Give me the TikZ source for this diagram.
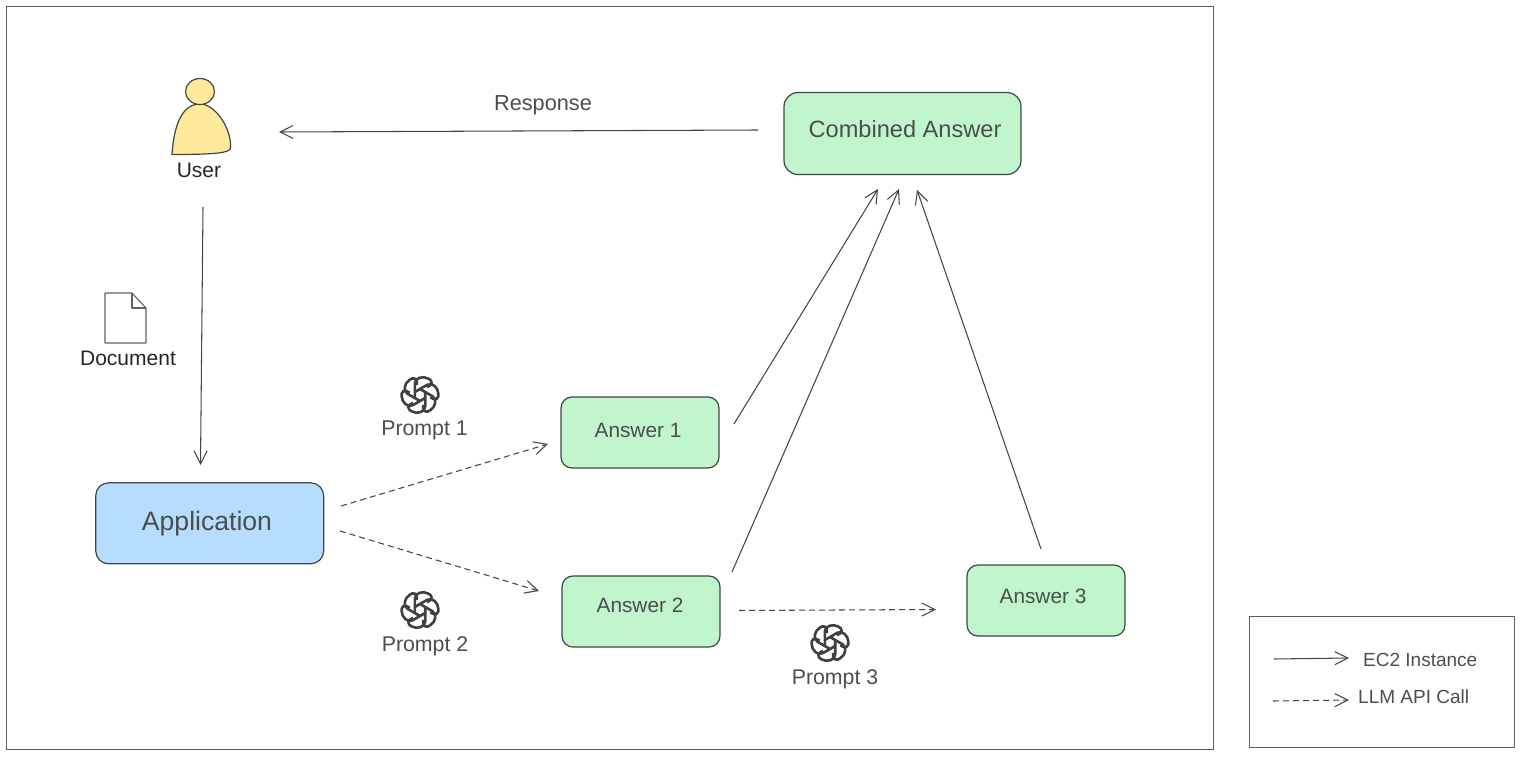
\documentclass[tikz,border=0pt]{standalone}
\usepackage{fontspec}
\setmainfont{Liberation Sans}
\usetikzlibrary{arrows.meta,shapes.geometric}
\definecolor{ink}{HTML}{3F4744}
\definecolor{txt}{HTML}{4A4F4D}
\definecolor{grn}{HTML}{C1F5CB}
\definecolor{blu}{HTML}{B6DCFF}
\definecolor{yel}{HTML}{FFEA9B}
\tikzset{
  x=1pt,y=-1pt,
  frame/.style={draw=ink!85,line width=1pt},
  answer/.style={draw=ink,line width=1.2pt,fill=grn,rounded corners=11pt,minimum width=158pt,minimum height=71pt,inner sep=0pt},
  lbl/.style={text=txt,inner sep=0pt,font=\fontsize{20.8}{24}\selectfont},
  plbl/.style={lbl,font=\fontsize{21.3}{24}\selectfont},
  blk/.style={text=black!85,inner sep=0pt,font=\fontsize{21}{24}\selectfont},
  ec/.style={draw=ink,line width=1.05pt,-{Straight Barb[length=13pt,width=13pt,line width=1.05pt]}},
  llm/.style={ec,dash pattern=on 6pt off 4pt},
  logo/.pic={
    \foreach \a in {0,60,...,300}{
      \draw[rotate=\a,draw=black!75,line width=2.6pt,line join=round,line cap=butt]
        (-5.2,3) -- (-5.2,-11.5) .. controls (-5.2,-17) and (3,-19.5) .. (8,-16.5)
        -- (10.5,-15) .. controls (12.5,-13.5) and (12,-11) .. (10,-9.5) -- (7,-7.8);
    }
  }
}
\begin{document}
\begin{tikzpicture}
\useasboundingbox (0,0) rectangle (1524,759);
\node[frame,minimum width=1207.5pt,minimum height=742.5pt,inner sep=0pt,anchor=north west] (main) at (5.5,6) {};
\node[frame,minimum width=265pt,minimum height=131pt,inner sep=0pt,anchor=north west] (legend) at (1249.2,616.2) {};

% user
\path[draw=ink,fill=yel,line width=1.2pt] (172,154.5) .. controls (174,125) and (182,104) .. (200,104)
  .. controls (216,104) and (232,130) .. (230.5,148) .. controls (230,153) and (215,154.5) .. (172,154.5) -- cycle;
\node[draw=ink,fill=yel,ellipse,line width=1.2pt,minimum width=29pt,minimum height=26pt,inner sep=0pt] (head) at (200,91.5) {};
\node[blk] (user) at (199,170) {User};

% document
\draw[draw=ink!85,line width=1.1pt,line join=round] (105,293) -- (132,293) -- (146,308) -- (146,343) -- (105,343) -- cycle;
\draw[draw=ink!85,line width=1.1pt,line join=round] (132,293) -- (132,308) -- (146,308);
\node[blk] (doc) at (128,358) {Document};

% boxes
\node[draw=ink,line width=1.2pt,fill=blu,rounded corners=13pt,minimum width=228pt,minimum height=81pt,inner sep=0pt] (app) at (209.7,523.3) {};
\node[lbl,font=\fontsize{26.6}{32}\selectfont] (applbl) at (207,523.5) {Application};
\node[draw=ink,line width=1.2pt,fill=grn,rounded corners=14pt,minimum width=237pt,minimum height=82pt,inner sep=0pt] (comb) at (902.5,133.5) {};
\node[lbl,font=\fontsize{23.6}{28}\selectfont] (comblbl) at (905,129.5) {Combined Answer};
\node[answer] (a1) at (640,432.5) {};
\node[lbl] (a1l) at (638,430) {Answer 1};
\node[answer] (a2) at (641,611.5) {};
\node[lbl] (a2l) at (640,605) {Answer 2};
\node[answer] (a3) at (1046,600.5) {};
\node[lbl] (a3l) at (1043,596) {Answer 3};

\node[lbl,font=\fontsize{21.7}{24}\selectfont] (resp) at (543,105.5) {Response};
\node[plbl] (p1) at (424.5,430.5) {Prompt 1};
\node[plbl] (p2) at (425,646.5) {Prompt 2};
\node[plbl] (p3) at (835,679.5) {Prompt 3};
\pic at (420,395) {logo};
\pic at (420,610) {logo};
\pic at (830,643) {logo};

% connector ends
\coordinate (respS) at (758,130);
\coordinate (respE) at (279,132);
\coordinate (userS) at (203,207);
\coordinate (appE) at (200.5,465);
\coordinate (p1S) at (341,506);
\coordinate (p1E) at (548,444);
\coordinate (p2S) at (340,531);
\coordinate (p2E) at (539,591);
\coordinate (p3S) at (739,610.5);
\coordinate (p3E) at (936,609.5);
\coordinate (a1S) at (734,424);
\coordinate (a1E) at (878,189);
\coordinate (a2S) at (732,572);
\coordinate (a2E) at (899,189);
\coordinate (a3S) at (1041,549);
\coordinate (a3E) at (917,190);
\draw[ec] (respS) -- (respE);
\draw[ec] (userS) -- (appE);
\draw[llm] (p1S) -- (p1E);
\draw[llm] (p2S) -- (p2E);
\draw[llm] (p3S) -- (p3E);
\draw[ec] (a1S) -- (a1E);
\draw[ec] (a2S) -- (a2E);
\draw[ec] (a3S) -- (a3E);

% legend
\coordinate (l1S) at (1274,659);
\coordinate (l1E) at (1349,658);
\coordinate (l2S) at (1273,701);
\coordinate (l2E) at (1349,700);
\draw[ec] (l1S) -- (l1E);
\draw[llm] (l2S) -- (l2E);
\node[lbl,font=\fontsize{19}{22}\selectfont,anchor=west] (l1) at (1363,660) {EC2 Instance};
\node[lbl,font=\fontsize{19}{22}\selectfont,anchor=west] (l2) at (1358,697) {LLM API Call};
\end{tikzpicture}
\end{document}
